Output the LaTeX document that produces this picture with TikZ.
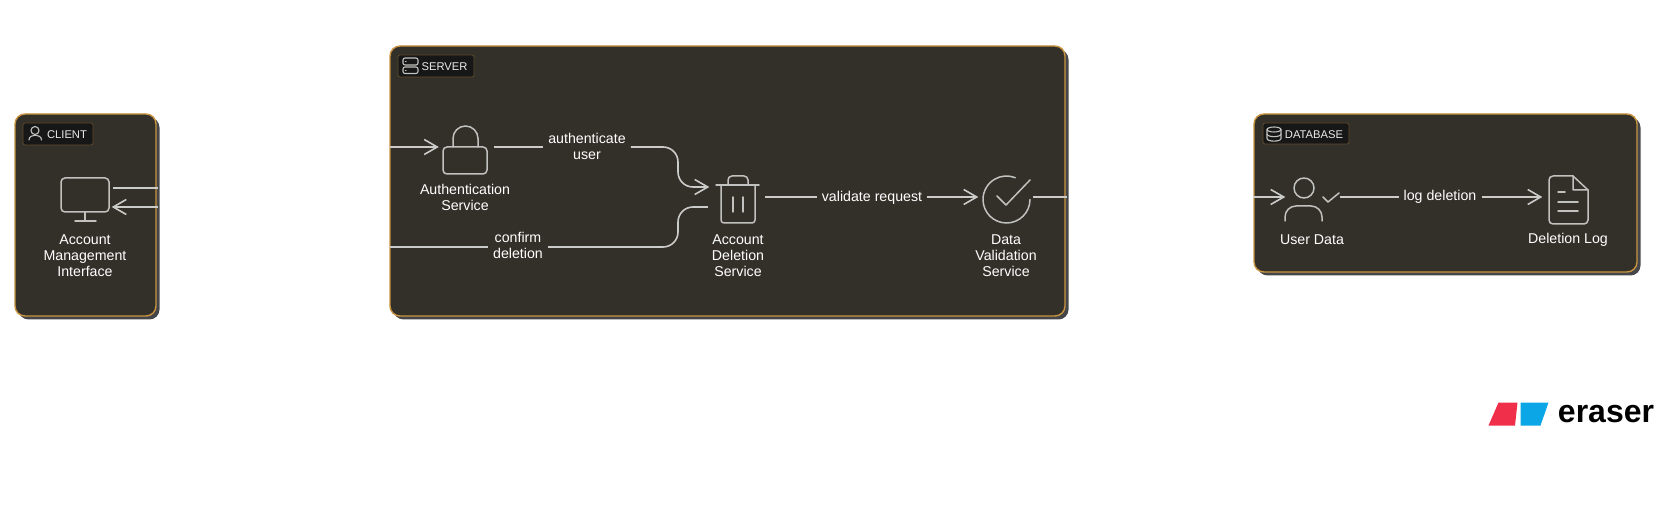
\documentclass[tikz,border=0pt]{standalone}
\usepackage{fontspec}
\setmainfont{Liberation Sans}
\usepackage{xcolor}
\usetikzlibrary{arrows.meta,shadows}
\definecolor{panelfill}{HTML}{33302A}
\definecolor{panelline}{HTML}{C8943F}
\definecolor{panelshade}{HTML}{45464A}
\definecolor{chipfill}{HTML}{171717}
\definecolor{chipline}{HTML}{5E4A2A}
\definecolor{strokegrey}{HTML}{CBCBC9}
\definecolor{logored}{HTML}{F0304A}
\definecolor{logoblue}{HTML}{0AA6E6}
\tikzset{
    groupbox/.style={draw=panelline,fill=panelfill,line width=1.4pt,rounded corners=10pt,
        general shadow={shadow xshift=3.5pt,shadow yshift=-3.5pt,fill=panelshade,draw=none}},
    chipbox/.style={draw=chipline,fill=chipfill,line width=0.8pt,rounded corners=2pt},
    chiptext/.style={text=white!92!black,font=\fontsize{11.2}{13}\selectfont,inner sep=0pt},
    icontext/.style={text=white,font=\fontsize{14.2}{16}\selectfont,align=center,inner sep=0pt},
    flowtext/.style={text=white,font=\fontsize{14.2}{16}\selectfont,align=center,inner xsep=5pt,inner ysep=0pt},
    iconbox/.style={minimum width=56pt,minimum height=56pt,inner sep=0pt},
    glyph/.style={draw=strokegrey!95!black,line width=1.5pt,line cap=round,line join=round},
    smallglyph/.style={draw=strokegrey!95!black,line width=1.1pt,line cap=round,line join=round},
    flowline/.style={draw=strokegrey,line width=1.6pt},
    flowarrow/.style={flowline,shorten >=-1.5pt,-{Straight Barb[length=13pt,width=15pt,line width=1.6pt]}},
}
\begin{document}
\begin{tikzpicture}[x=1pt,y=1pt,yscale=-1]
    \useasboundingbox (0,0) rectangle (1675,510);

    \node[groupbox,minimum width=141pt,minimum height=202pt] (client) at (85.5,215) {};
    \node[groupbox,minimum width=675pt,minimum height=270pt] (server) at (727.5,181) {};
    \node[groupbox,minimum width=383pt,minimum height=158pt] (database) at (1445.5,193) {};

    \node[chipbox,minimum width=70pt,minimum height=22pt] (clientChip) at (58,134) {};
    \node[chiptext] (clientTag) at (67,135) {CLIENT};
    \node[chipbox,minimum width=76pt,minimum height=22pt] (serverChip) at (436,66) {};
    \node[chiptext] (serverTag) at (444.5,67) {SERVER};
    \node[chipbox,minimum width=86pt,minimum height=21pt] (databaseChip) at (1306,133.5) {};
    \node[chiptext] (databaseTag) at (1314,135) {DATABASE};

    \node[iconbox] (monitor) at (85,197.5) {};
    \node[iconbox] (lock) at (465.5,147) {};
    \node[iconbox,minimum width=57pt] (trash) at (736.5,197) {};
    \node[iconbox] (check) at (1005,197) {};
    \node[iconbox] (user) at (1312,197) {};
    \node[iconbox] (doc) at (1569,197) {};

    \node[icontext] (monitorText) at (85,256) {Account\\Management\\Interface};
    \node[icontext] (lockText) at (465,197.5) {Authentication\\Service};
    \node[icontext] (trashText) at (738,256) {Account\\Deletion\\Service};
    \node[icontext] (checkText) at (1006,256) {Data\\Validation\\Service};
    \node[icontext] (userText) at (1312,240) {User Data};
    \node[icontext] (docText) at (1568,240) {Deletion Log};

    \node[flowtext] (authFlow) at (587,146) {authenticate\\user};
    \node[flowtext] (confirmFlow) at (518,245.5) {confirm\\deletion};
    \node[flowtext] (validateFlow) at (872,197.5) {validate request};
    \node[flowtext] (logFlow) at (1440,197) {log deletion};

    \coordinate (clientOut) at (158,188);
    \coordinate (clientIn) at (158,207);
    \coordinate (serverAuth) at (390,147);
    \coordinate (serverConfirm) at (390,247);
    \coordinate (serverOut) at (1067,197);
    \coordinate (databaseIn) at (1253,197);

    \draw[flowline] ([yshift=-9.5pt]monitor.east) -- (clientOut);
    \draw[flowarrow] (clientIn) -- ([yshift=9.5pt]monitor.east);
    \draw[flowarrow] (serverAuth) -- (lock.west);
    \draw[flowline] (lock.east) -- (authFlow.west |- lock.east);
    \draw[flowarrow,rounded corners=15pt] (authFlow.east |- lock.east) -- (678,147) -- (678,187) -- ([yshift=-10pt]trash.west);
    \draw[flowline,rounded corners=15pt] ([yshift=10pt]trash.west) -- (678,207) -- (678,247) -- (confirmFlow.east |- serverConfirm);
    \draw[flowline] (confirmFlow.west |- serverConfirm) -- (serverConfirm);
    \draw[flowline] (trash.east) -- (validateFlow.west |- trash.east);
    \draw[flowarrow] (validateFlow.east |- check.west) -- (check.west);
    \draw[flowline] (check.east) -- (serverOut);
    \draw[flowarrow] (databaseIn) -- (user.west);
    \draw[flowline] (user.east) -- (logFlow.west);
    \draw[flowarrow] (logFlow.east) -- (doc.west);

    \draw[smallglyph] (35,130.5) circle (4);
    \draw[smallglyph] (29,140) .. controls (29,133.5) and (41.5,133.5) .. (41.5,140);
    \draw[smallglyph,rounded corners=2pt] (403,58) rectangle (418,65);
    \draw[smallglyph,rounded corners=2pt] (403,67) rectangle (418,73.5);
    \draw[smallglyph] (405.5,61.5) -- (406,61.5) (405.5,70.2) -- (406,70.2);
    \draw[smallglyph] (1274,129.5) ellipse (7 and 2.5);
    \draw[smallglyph] (1267,129.5) -- (1267,138.5) .. controls (1267,142) and (1281,142) .. (1281,138.5) -- (1281,129.5);
    \draw[smallglyph] (1267,134) .. controls (1267,137.5) and (1281,137.5) .. (1281,134);

    \draw[glyph,rounded corners=4pt] (61,178) rectangle (109,212);
    \draw[glyph] (85,212) -- (85,221) (75,221) -- (96,221);

    \draw[glyph,rounded corners=4pt] (443,147) rectangle (487,174);
    \draw[glyph] (453,147) -- (453,138.5) arc (180:360:12.5) -- (478,147);

    \draw[glyph] (716,185) -- (759,185);
    \draw[glyph,rounded corners=3pt] (721,185) -- (721,223) -- (755,223) -- (755,185);
    \draw[glyph,rounded corners=4pt] (728,185) -- (728,176) -- (748,176) -- (748,185);
    \draw[glyph] (733,197) -- (733,212) (743,197) -- (743,212);

    \draw[glyph] (1030,199.5) arc (0:292:23.5);
    \draw[glyph] (997,196) -- (1006,205) -- (1030,180);

    \draw[glyph] (1304,188) circle (10);
    \draw[glyph] (1285,221) -- (1285,217) arc (180:270:11) -- (1311,206) arc (270:360:11) -- (1322,221);
    \draw[glyph] (1323,197) -- (1328,202) -- (1339,193);

    \draw[glyph,rounded corners=4pt] (1573,176) -- (1549,176) -- (1549,224) -- (1588,224) -- (1588,190);
    \draw[glyph] (1573,176) -- (1588,190) -- (1573,190) -- cycle;
    \draw[glyph] (1558,192) -- (1565,192) (1558,202) -- (1578,202) (1558,211) -- (1578,211);

    \fill[logored] (1498.5,402.5) -- (1517.5,402.5) -- (1515,425.5) -- (1488.5,425.5) -- cycle;
    \fill[logoblue] (1520.5,402.5) -- (1548.5,402.5) -- (1540.5,425.5) -- (1520.5,425.5) -- cycle;
    \node[text=black,font=\fontsize{32}{32}\selectfont\bfseries,inner sep=0pt] (logoText) at (1606,414.5) {eraser};
\end{tikzpicture}
\end{document}
